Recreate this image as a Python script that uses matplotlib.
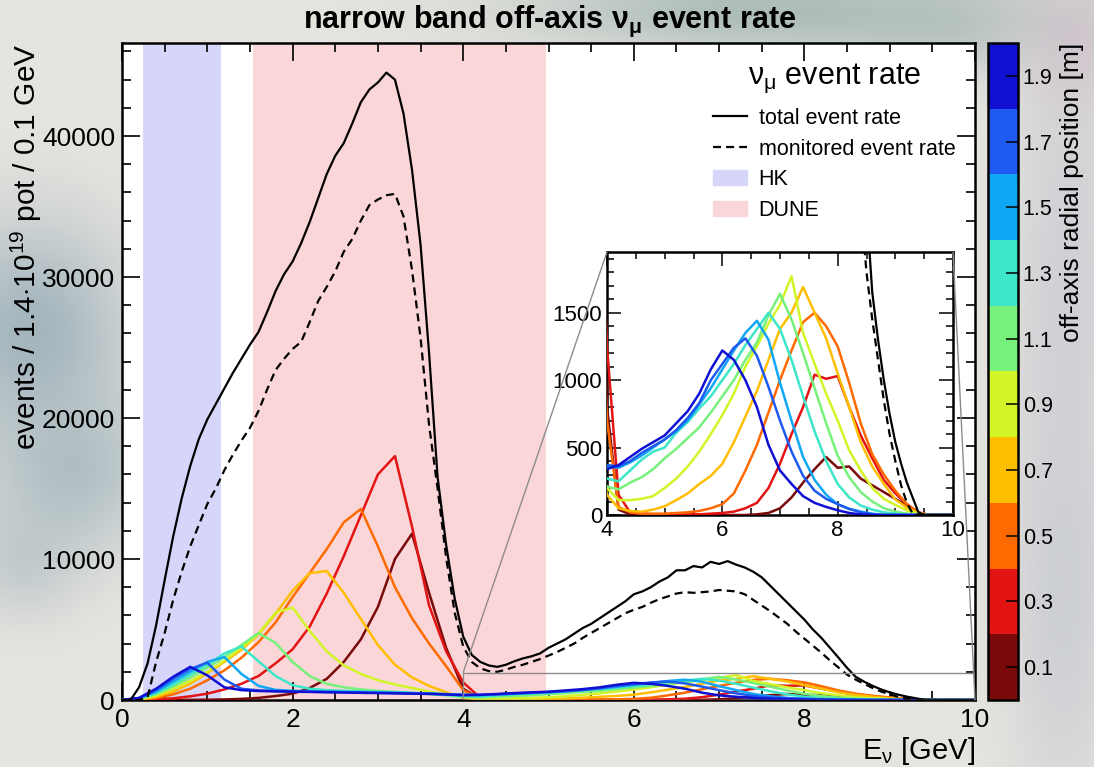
#!/usr/bin/env python3
"""Narrow band off-axis nu_mu event rate, split by off-axis radial position."""

import numpy as np
import matplotlib
matplotlib.use("Agg")
import matplotlib.pyplot as plt
from matplotlib import font_manager
from matplotlib.colors import ListedColormap, BoundaryNorm
from matplotlib.cm import ScalarMappable
from matplotlib.lines import Line2D
from matplotlib.patches import Patch, Rectangle, ConnectionPatch
from matplotlib.ticker import MultipleLocator, FixedLocator

# ---------------------------------------------------------------- data
# total / monitored rates, 0.1 GeV bins from 0 to 10 GeV
energy_fine = np.arange(101) * 0.1
total_rate = [
    0, 0, 900, 2600, 5300, 8500, 11600, 14300, 16600, 18500,
    19900, 21000, 22100, 23200, 24200, 25200, 26100, 27500, 29000, 30200,
    31100, 32400, 33900, 35600, 37300, 38600, 39500, 40900, 42400, 43300,
    43800, 44500, 44000, 41600, 37600, 32300, 24600, 15800, 11000, 7200,
    4500, 3200, 2700, 2450, 2350, 2500, 2750, 2950, 3100, 3300,
    3700, 4000, 4300, 4700, 5100, 5400, 5800, 6200, 6600, 7000,
    7500, 7700, 8000, 8400, 8700, 9200, 9200, 9500, 9400, 9800,
    9650, 9850, 9600, 9400, 9100, 8700, 8100, 7500, 6900, 6300,
    5700, 5000, 4400, 3700, 3000, 2280, 1650, 1300, 1000, 750,
    540, 380, 240, 130, 20, 0, 0, 0, 0, 0, 0,
]
monitored_rate = [
    0, 0, 0, 200, 2700, 4750, 7100, 9100, 10900, 12400,
    13900, 15000, 16300, 17400, 18400, 19300, 20500, 22000, 23400, 24200,
    24900, 25400, 26800, 28300, 29300, 30400, 31800, 32700, 34000, 35100,
    35500, 35800, 35900, 34300, 30500, 25700, 19500, 15000, 10100, 6200,
    3800, 2700, 2250, 2050, 2000, 2150, 2350, 2500, 2700, 2900,
    3150, 3400, 3700, 4000, 4400, 4750, 5100, 5450, 5800, 6150,
    6400, 6600, 6900, 7150, 7350, 7550, 7650, 7600, 7650, 7700,
    7800, 7750, 7700, 7500, 7100, 6700, 6300, 5850, 5400, 4850,
    4350, 3850, 3350, 2800, 2300, 1800, 1450, 1150, 850, 600,
    400, 220, 90, 10, 0, 0, 0, 0, 0, 0, 0,
]

# per-radius rates, 0.2 GeV steps from 0 to 10 GeV
energy = np.arange(51) * 0.2
radii = [0.1, 0.3, 0.5, 0.7, 0.9, 1.1, 1.3, 1.5, 1.7, 1.9]
rate_r01 = [
    0, 0, 0, 0, 10, 20, 40, 80, 150, 280,
    450, 850, 1500, 2700, 4300, 6600, 10000, 11800, 7600, 3700,
    800, 40, 5, 0, 0, 0, 0, 0, 0, 0,
    0, 0, 0, 5, 15, 50, 130, 240, 340, 430,
    350, 360, 270, 220, 170, 120, 70, 15, 0, 0, 0,
]
rate_r03 = [
    0, 5, 40, 120, 260, 450, 750, 1150, 1700, 2600,
    3600, 5200, 7550, 10200, 13100, 16000, 17300, 12300, 6700, 3450,
    1250, 150, 20, 10, 5, 5, 5, 5, 5, 10,
    15, 25, 50, 90, 200, 380, 600, 800, 1040, 1010,
    1030, 800, 590, 420, 260, 160, 80, 20, 0, 0, 0,
]
rate_r05 = [
    0, 15, 130, 400, 800, 1400, 2100, 3000, 4100, 5500,
    7300, 9000, 10700, 12600, 13550, 10900, 8000, 5800, 4000, 2400,
    700, 60, 20, 10, 10, 10, 15, 20, 30, 50,
    80, 160, 330, 520, 760, 1000, 1220, 1430, 1500, 1400,
    1250, 980, 680, 450, 300, 180, 80, 15, 0, 0, 0,
]
rate_r07 = [
    0, 30, 230, 600, 1150, 1900, 2700, 3550, 4650, 6100,
    7750, 9000, 9150, 7600, 5750, 3900, 2500, 1600, 1000, 550,
    150, 50, 30, 25, 40, 65, 110, 160, 230, 290,
    380, 540, 730, 920, 1150, 1380, 1500, 1690, 1500, 1310,
    1050, 800, 540, 360, 230, 115, 55, 15, 0, 0, 0,
]
rate_r09 = [
    0, 50, 330, 800, 1350, 2000, 2800, 3700, 4700, 6200,
    6550, 4900, 3450, 2450, 1850, 1400, 1100, 850, 600, 400,
    200, 110, 110, 120, 140, 200, 270, 360, 470, 600,
    740, 900, 1100, 1250, 1420, 1560, 1770, 1350, 1120, 900,
    700, 480, 330, 200, 120, 75, 35, 10, 0, 0, 0,
]
rate_r11 = [
    0, 70, 420, 950, 1600, 2300, 3050, 3900, 4750, 4050,
    2700, 1700, 1150, 900, 750, 650, 580, 500, 420, 330,
    210, 190, 240, 280, 340, 420, 490, 570, 650, 760,
    880, 1000, 1150, 1280, 1480, 1640, 1450, 1200, 940, 680,
    440, 280, 170, 100, 50, 25, 10, 0, 0, 0, 0,
]
rate_r13 = [
    0, 90, 500, 1100, 1800, 2500, 3300, 3800, 2750, 1700,
    1050, 800, 700, 650, 610, 580, 540, 500, 450, 370,
    270, 250, 330, 410, 470, 500, 610, 690, 790, 880,
    1000, 1120, 1260, 1380, 1500, 1380, 1150, 880, 620, 400,
    230, 130, 70, 40, 20, 10, 0, 0, 0, 0, 0,
]
rate_r15 = [
    0, 110, 600, 1300, 2000, 2700, 3050, 1850, 1000, 720,
    650, 620, 600, 580, 560, 540, 520, 490, 460, 420,
    360, 350, 390, 440, 500, 560, 620, 700, 820, 940,
    1080, 1220, 1350, 1440, 1300, 980, 700, 430, 260, 150,
    80, 45, 25, 10, 0, 0, 0, 0, 0, 0, 0,
]
rate_r17 = [
    0, 130, 700, 1500, 2200, 2650, 1450, 800, 680, 640,
    610, 590, 570, 550, 530, 510, 490, 470, 450, 410,
    370, 360, 400, 460, 510, 560, 630, 720, 830, 1000,
    1120, 1240, 1310, 1180, 950, 700, 470, 290, 180, 120,
    80, 45, 20, 5, 0, 0, 0, 0, 0, 0, 0,
]
rate_r19 = [
    0, 150, 800, 1650, 2350, 1750, 900, 700, 640, 610,
    590, 570, 550, 530, 510, 490, 470, 450, 430, 390,
    340, 370, 430, 490, 540, 590, 680, 770, 900, 1080,
    1220, 1150, 1000, 800, 520, 330, 230, 140, 90, 60,
    35, 15, 5, 0, 0, 0, 0, 0, 0, 0, 0,
]
radial_rates = [rate_r01, rate_r03, rate_r05, rate_r07, rate_r09,
                rate_r11, rate_r13, rate_r15, rate_r17, rate_r19]

hk_band = (0.25, 1.16)
dune_band = (1.54, 4.97)
zoom_ymax = 1950

# ---------------------------------------------------------------- style
radius_colors = ["#7a0a0a", "#e31414", "#ff6a00", "#ffbe00", "#d2f528",
                 "#78f07c", "#3ce6c8", "#10a8f5", "#1e5af0", "#1010d2"]
HK_COLOR = "#d6d6fa"
DUNE_COLOR = "#fbd6d8"

names = {f.name for f in font_manager.fontManager.ttflist}
SANS = "Liberation Sans" if "Liberation Sans" in names else "DejaVu Sans"

plt.rcParams["font.family"] = [SANS, "DejaVu Sans"]
plt.rcParams["mathtext.fontset"] = "custom"
plt.rcParams["mathtext.rm"] = SANS
plt.rcParams["mathtext.it"] = SANS
plt.rcParams["mathtext.bf"] = f"{SANS}:bold"

W, H = 1094, 767


def frac_box(x0, y0, x1, y1):
    """pixel box (top-left origin) -> figure fraction rect"""
    return [x0 / W, 1 - y1 / H, (x1 - x0) / W, (y1 - y0) / H]


def backdrop(fig):
    ny, nx = 154, 219
    yy, xx = np.mgrid[0:ny, 0:nx].astype(float)
    yy *= H / ny
    xx *= W / nx
    img = np.ones((ny, nx, 3)) * np.array([0.905, 0.897, 0.878])
    blobs = [
        (30, 330, 70, 80, (0.60, 0.68, 0.72), 0.85),
        (70, 470, 60, 60, (0.62, 0.70, 0.73), 0.7),
        (20, 560, 40, 40, (0.66, 0.72, 0.75), 0.5),
        (760, 10, 170, 28, (0.62, 0.70, 0.68), 0.8),
        (940, 25, 80, 35, (0.66, 0.72, 0.72), 0.6),
        (1065, 260, 40, 180, (0.78, 0.79, 0.82), 0.7),
        (1075, 40, 40, 50, (0.80, 0.74, 0.78), 0.6),
        (1060, 600, 40, 150, (0.74, 0.76, 0.80), 0.6),
    ]
    for cx, cy, sx, sy, col, amp in blobs:
        w = amp * np.exp(-0.5 * (((xx - cx) / sx) ** 2 + ((yy - cy) / sy) ** 2))
        img = img * (1 - w[..., None]) + np.array(col) * w[..., None]
    bg = fig.add_axes([0, 0, 1, 1], zorder=-10)
    bg.imshow(img, extent=[0, 1, 0, 1], aspect="auto", interpolation="bicubic")
    bg.axis("off")


def draw_curves(ax, lw_col, lw_blk):
    for rate, col in zip(radial_rates, radius_colors):
        ax.plot(energy, rate, color=col, lw=lw_col, zorder=3)
    ax.plot(energy_fine, total_rate, color="black", lw=lw_blk, zorder=4)
    ax.plot(energy_fine, monitored_rate, color="black", lw=lw_blk,
            dashes=(3.6, 2.3), zorder=4)


def main():
    fig = plt.figure(figsize=(W / 100, H / 100), dpi=100)
    backdrop(fig)

    ax = fig.add_axes(frac_box(122, 43, 975, 700))
    ax.axvspan(*hk_band, color=HK_COLOR, lw=0, zorder=0)
    ax.axvspan(*dune_band, color=DUNE_COLOR, lw=0, zorder=0)
    draw_curves(ax, 1.8, 1.6)
    ax.set_xlim(0, 10)
    ax.set_ylim(0, 46600)
    ax.xaxis.set_major_locator(MultipleLocator(2))
    ax.xaxis.set_minor_locator(MultipleLocator(0.5))
    ax.yaxis.set_major_locator(MultipleLocator(10000))
    ax.yaxis.set_minor_locator(MultipleLocator(2000))
    ax.tick_params(which="both", direction="in", top=True, right=True,
                   labelsize=19, width=1.2)
    ax.tick_params(which="major", length=13)
    ax.tick_params(which="minor", length=6.5)
    ax.tick_params(axis="x", pad=6)
    ax.tick_params(axis="y", pad=5)
    for sp in ax.spines.values():
        sp.set_linewidth(1.8)

    ax.set_ylabel(r"events / 1.4$\cdot$10$^{19}$ pot / 0.1 GeV",
                  fontsize=21.5, loc="top")
    ax.yaxis.set_label_coords(-0.091, 1.0)
    ax.set_xlabel(r"E$_{\nu}$ [GeV]", fontsize=21, loc="right", labelpad=2)

    handles = [
        Line2D([], [], color="black", lw=1.6),
        Line2D([], [], color="black", lw=1.6, dashes=(3.6, 2.3)),
        Patch(color=HK_COLOR),
        Patch(color=DUNE_COLOR),
    ]
    leg = ax.legend(handles, ["total event rate", "monitored event rate",
                              "HK", "DUNE"],
                    title=r"$\nu_{\mu}$ event rate", title_fontsize=22,
                    fontsize=15.5, frameon=False, loc="upper right",
                    bbox_to_anchor=(0.977, 0.972), borderpad=0,
                    borderaxespad=0, labelspacing=0.45, handlelength=1.55,
                    handletextpad=0.55)
    leg._legend_box.sep = 9

    fig.text(550 / W, 1 - 21 / H,
             r"narrow band off-axis $\mathbf{\nu_{\mu}}$ event rate",
             ha="center", va="center", fontsize=22, fontweight="bold")

    # zoomed view of the high-energy tail
    ax.add_patch(Rectangle((4, 0), 6, zoom_ymax, fill=False,
                           ec="#8c8c8c", lw=1.0, zorder=5))
    iax = fig.add_axes(frac_box(607, 252, 953, 515))
    draw_curves(iax, 1.8, 1.6)
    iax.set_xlim(4, 10)
    iax.set_ylim(0, zoom_ymax)
    iax.xaxis.set_major_locator(MultipleLocator(2))
    iax.xaxis.set_minor_locator(MultipleLocator(0.5))
    iax.yaxis.set_major_locator(MultipleLocator(500))
    iax.yaxis.set_minor_locator(MultipleLocator(100))
    iax.tick_params(which="both", direction="in", top=True, right=True,
                    labelsize=16, width=1.1)
    iax.tick_params(which="major", length=10)
    iax.tick_params(which="minor", length=5)
    for sp in iax.spines.values():
        sp.set_linewidth(1.8)
    for (xa, ya), (xb, yb) in [((4, zoom_ymax), (4, zoom_ymax)),
                               ((10, zoom_ymax), (10, 0))]:
        con = ConnectionPatch(xyA=(xa, ya), coordsA=iax.transData,
                              xyB=(xb, yb), coordsB=ax.transData,
                              color="#8c8c8c", lw=1.0, zorder=5)
        fig.add_artist(con)

    # discrete radial-position colour scale
    cax = fig.add_axes(frac_box(988, 43, 1018, 700))
    cmap = ListedColormap(radius_colors)
    norm = BoundaryNorm(np.arange(0, 2.01, 0.2), cmap.N)
    cb = fig.colorbar(ScalarMappable(norm=norm, cmap=cmap), cax=cax,
                      ticks=radii)
    cb.ax.set_yticklabels([f"{r:.1f}" for r in radii])
    cb.ax.yaxis.set_minor_locator(FixedLocator(np.arange(0.2, 2.0, 0.2)))
    cb.ax.tick_params(which="both", direction="in", labelsize=15.5, width=1.1)
    cb.ax.tick_params(which="major", length=9)
    cb.ax.tick_params(which="minor", length=0)
    cb.outline.set_linewidth(1.8)
    cb.ax.set_ylabel("off-axis radial position [m]", fontsize=19, loc="top",
                     labelpad=5)

    fig.savefig("out.png", dpi=100)


if __name__ == "__main__":
    main()
